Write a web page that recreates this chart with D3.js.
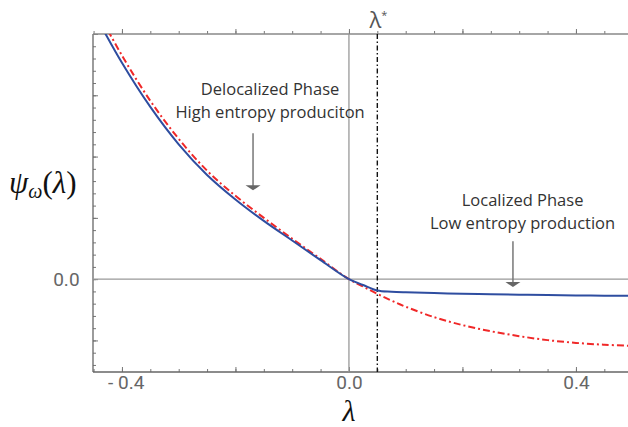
<!DOCTYPE html>
<html>
<head>
<meta charset="utf-8">
<script src="https://cdn.jsdelivr.net/npm/d3@7"></script>
<style>
	body { margin: 0; background: #fff; }
	svg { display: block; }
</style>
</head>
<body>
<svg id="chart" width="628" height="427"></svg>
<script>
// values
const lambdaGrid = [-0.45, -0.40, -0.35, -0.30, -0.25, -0.20, -0.15, -0.10, -0.05, 0,
	0.025, 0.05, 0.075, 0.10, 0.15, 0.20, 0.25, 0.30, 0.35, 0.40, 0.45, 0.50];
const psiSolid = [0.436, 0.353, 0.281, 0.220, 0.170, 0.130, 0.095, 0.063, 0.031, 0,
	-0.0095, -0.0185, -0.0205, -0.0215, -0.0228, -0.0238, -0.0246, -0.0254, -0.0260, -0.0265, -0.0269, -0.0273];
const psiDashed = [0.449, 0.365, 0.291, 0.229, 0.177, 0.136, 0.100, 0.066, 0.033, 0,
	-0.012, -0.024, -0.035, -0.045, -0.062, -0.075, -0.085, -0.093, -0.0995, -0.104, -0.107, -0.109];
const lambdaStar = 0.05;
const xLabelled = [-0.4, 0, 0.4];
const yLabelled = [0];

const svg = d3.select("#chart");
const margin = {top: 34, left: 93, bottom: 55};
const height = 427;

const x = d3.scaleLinear().domain([-0.451, 0.5]).range([margin.left, margin.left + 0.951 * 567.5]);
const y = d3.scaleLinear().domain([-0.1515, 0.4]).range([height - margin.bottom, margin.top]);

const x0 = x.range()[0], x1 = x.range()[1];
const yTop = y.range()[1], yBot = y.range()[0];

svg.append("clipPath").attr("id", "plotArea")
	.append("rect").attr("x", x0).attr("y", yTop).attr("width", x1 - x0).attr("height", yBot - yTop);

//ticks (inward) on bottom, top and left
const xMinor = d3.range(-9, 11).map(i => i * 0.05);
const yMinor = d3.range(-7, 21).map(i => i * 0.02);
const isMajor = (v, step) => Math.abs(v / step - Math.round(v / step)) < 1e-6;
const tickColor = "#777";

function tickAxis(axisFn, scale, values, size, fmt) {
	return axisFn(scale).tickValues(values).tickSizeInner(size).tickSizeOuter(0).tickFormat(fmt);
}

const xMaj = xMinor.filter(v => isMajor(v, 0.2));
const yMaj = yMinor.filter(v => isMajor(v, 0.1));
const fmtX = d => {
	if (!xLabelled.some(v => Math.abs(v - d) < 1e-6)) return "";
	return d < -1e-9 ? "- " + d3.format(".1f")(-d) : d3.format(".1f")(Math.abs(d));
};
const fmtY = d => yLabelled.some(v => Math.abs(v - d) < 1e-6) ? d3.format(".1f")(Math.abs(d)) : "";

[[xMinor, -3, () => ""], [xMaj, -5, fmtX]].forEach(([vals, s, f]) => {
	svg.append("g").attr("class", "xAxis")
		.attr("transform", "translate(0," + yBot + ")")
		.call(tickAxis(d3.axisBottom, x, vals, s, f));
	svg.append("g").attr("class", "xTop")
		.attr("transform", "translate(0," + yTop + ")")
		.call(tickAxis(d3.axisTop, x, vals, -s, () => ""));
});
[[yMinor, -3, () => ""], [yMaj, -5, fmtY]].forEach(([vals, s, f]) => {
	svg.append("g").attr("class", "yAxis")
		.attr("transform", "translate(" + x0 + ",0)")
		.call(tickAxis(d3.axisLeft, y, vals, s, f));
});
svg.selectAll(".xAxis .domain, .xTop .domain, .yAxis .domain").remove();
svg.selectAll(".tick line").attr("stroke", tickColor).attr("stroke-width", 1);
svg.selectAll(".xAxis text").attr("dy", "0.75em").attr("dx", d => d < 0 ? "0.2em" : 0);
svg.selectAll(".yAxis text").attr("dx", "-0.55em");
svg.selectAll(".tick text")
	.attr("fill", "#666").style("font-family", "Roboto, 'Open Sans', sans-serif")
	.style("font-size", "19px");

//frame
svg.append("line").attr("x1", x0).attr("x2", x1).attr("y1", yBot).attr("y2", yBot)
	.attr("stroke", "#666").attr("stroke-width", 1.3);
svg.append("line").attr("x1", x0).attr("x2", x0).attr("y1", yTop).attr("y2", yBot)
	.attr("stroke", "#666").attr("stroke-width", 1.3);
svg.append("line").attr("x1", x0).attr("x2", x1).attr("y1", yTop).attr("y2", yTop)
	.attr("stroke", "#888").attr("stroke-width", 1.3);

//zero lines
svg.append("line").attr("x1", x0).attr("x2", x1).attr("y1", y(0)).attr("y2", y(0))
	.attr("stroke", "#999").attr("stroke-width", 1.3);
svg.append("line").attr("x1", x(0)).attr("x2", x(0)).attr("y1", yTop).attr("y2", yBot)
	.attr("stroke", "#999").attr("stroke-width", 1.3);

//lambda star
svg.append("line").attr("x1", x(lambdaStar)).attr("x2", x(lambdaStar)).attr("y1", yTop).attr("y2", yBot)
	.attr("stroke", "#111").attr("stroke-width", 1.4).attr("stroke-dasharray", "5,2.5,1.5,2.5");
const star = svg.append("text").attr("x", x(lambdaStar) + 1).attr("y", 28)
	.attr("text-anchor", "middle").attr("fill", "#555")
	.style("font-family", "'Open Sans', sans-serif").style("font-size", "22px");
star.append("tspan").text("λ");
star.append("tspan").attr("dy", -9).style("font-size", "11px").text("*");

//curves
const line = d3.line().x(d => x(d[0])).y(d => y(d[1])).curve(d3.curveCatmullRom.alpha(0.5));
const plot = svg.append("g").attr("clip-path", "url(#plotArea)");
plot.append("path").datum(lambdaGrid.map((l, i) => [l, psiDashed[i]]))
	.attr("d", line).attr("fill", "none").attr("stroke", "#f02828")
	.attr("stroke-width", 2).attr("stroke-dasharray", "7,3,2,3");
plot.append("path").datum(lambdaGrid.map((l, i) => [l, psiSolid[i]]))
	.attr("d", line).attr("fill", "none").attr("stroke", "#2e4da0")
	.attr("stroke-width", 2);

//annotations
const annoFont = "'Open Sans', sans-serif";
function annotate(lines, cx, yLine, arrowX, yFrom, yTo) {
	const t = svg.append("text").attr("text-anchor", "middle").attr("fill", "#333")
		.style("font-family", annoFont).style("font-size", "16.5px");
	lines.forEach((s, i) => t.append("tspan").attr("x", cx).attr("y", yLine + i * 23).text(s));
	svg.append("line").attr("x1", arrowX).attr("x2", arrowX).attr("y1", yFrom).attr("y2", yTo - 4)
		.attr("stroke", "#777").attr("stroke-width", 1.5);
	svg.append("path")
		.attr("d", "M" + (arrowX - 7.5) + "," + (yTo - 5) + "L" + (arrowX + 7.5) + "," + (yTo - 5) + "L" + arrowX + "," + yTo + "Z")
		.attr("fill", "#666");
}
annotate(["Delocalized Phase", "High entropy produciton"], x(-0.139), 95, x(-0.169), y(0.238), y(0.145));
annotate(["Localized Phase", "Low entropy production"], x(0.306), 206, x(0.289), y(0.062), y(-0.013));

//axis titles
const yl = svg.append("text").attr("x", 9).attr("y", 193).attr("fill", "#111")
	.style("font-family", "'Liberation Serif', serif").style("font-size", "31px");
yl.append("tspan").style("font-style", "italic").text("ψ");
yl.append("tspan").attr("dy", 5).style("font-style", "italic").style("font-size", "20px").text("ω");
yl.append("tspan").attr("dy", -5).text("(");
yl.append("tspan").style("font-style", "italic").text("λ");
yl.append("tspan").text(")");

svg.append("text").attr("x", x(0)).attr("y", 421).attr("text-anchor", "middle").attr("fill", "#111")
	.style("font-family", "'Liberation Serif', serif").style("font-style", "italic").style("font-size", "30px")
	.text("λ");
</script>
</body>
</html>
